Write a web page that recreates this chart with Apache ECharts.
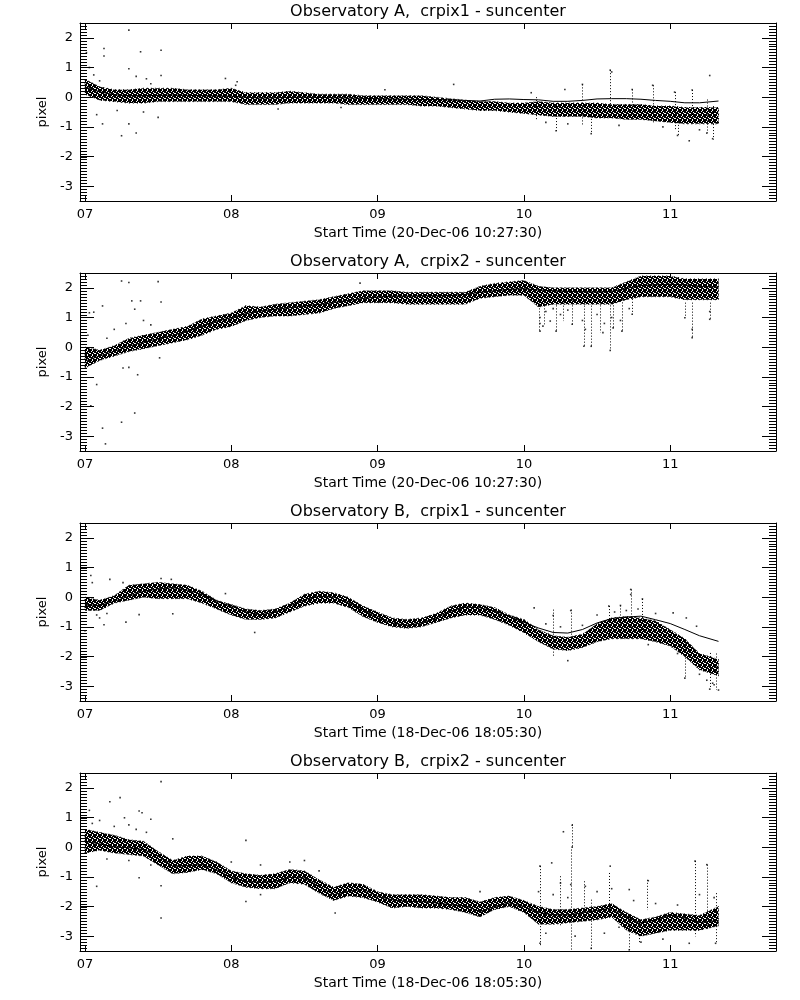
<!DOCTYPE html>
<html><head><meta charset="utf-8">
<script src="https://cdn.jsdelivr.net/npm/echarts@6/dist/echarts.min.js"></script>
<style>html,body{margin:0;padding:0;background:#fff}#chart{width:800px;height:1000px}</style>
</head><body><div id="chart"></div>
<script>
// ---- text ----
const titles = ['Observatory A,  crpix1 - suncenter','Observatory A,  crpix2 - suncenter','Observatory B,  crpix1 - suncenter','Observatory B,  crpix2 - suncenter'];
const xNames = ['Start Time (20-Dec-06 10:27:30)','Start Time (20-Dec-06 10:27:30)','Start Time (18-Dec-06 18:05:30)','Start Time (18-Dec-06 18:05:30)'];
const yName = 'pixel';
const xTicks = [7,8,9,10,11];
const yTicks = [-3,-2,-1,0,1,2];
// minor y tick positions (every 0.1 pixel inside the axis range)
const yMinorTicks = [];
for (let k = -34; k <= 24; k++) yMinorTicks.push(k / 10);
// ---- sample times (day) ----
const xs = [7.0,7.1,7.2,7.3,7.4,7.5,7.6,7.7,7.8,7.9,8.0,8.1,8.2,8.3,8.4,8.5,8.6,8.7,8.8,8.9,9.0,9.1,9.2,9.3,9.4,9.5,9.6,9.7,9.8,9.9,10.0,10.1,10.2,10.3,10.4,10.5,10.6,10.7,10.8,10.9,11.0,11.1,11.2,11.33];
// ---- Observatory A crpix1 ----
const a1Lo = [0.1,-0.1,-0.15,-0.2,-0.2,-0.15,-0.15,-0.15,-0.15,-0.15,-0.15, -0.25,-0.25,-0.25,-0.2,-0.2,-0.2,-0.2,-0.25,-0.25,-0.25, -0.25,-0.25,-0.3,-0.3,-0.35,-0.4,-0.45,-0.45,-0.5,-0.55, -0.6,-0.65,-0.65,-0.65,-0.7,-0.7,-0.75,-0.75,-0.8,-0.85, -0.9,-0.9,-0.9];
const a1Hi = [0.6,0.35,0.25,0.25,0.3,0.3,0.3,0.25,0.25,0.25,0.3, 0.15,0.15,0.15,0.2,0.15,0.1,0.1,0.1,0.05,0.05, 0.05,0.05,0.05,0.0,-0.05,-0.1,-0.15,-0.15,-0.2,-0.2, -0.15,-0.2,-0.2,-0.2,-0.2,-0.25,-0.25,-0.25,-0.3,-0.3, -0.35,-0.35,-0.35];
const a1Fit = [0.35,0.18,0.08,0.05,0.05,0.06,0.07,0.06,0.05,0.04,0.03, 0.0,-0.03,-0.02,-0.01,0.0,-0.01,-0.02,-0.03,-0.04,-0.05, -0.06,-0.07,-0.08,-0.08,-0.09,-0.11,-0.13,-0.07,-0.06,-0.08, -0.09,-0.14,-0.14,-0.11,-0.06,-0.05,-0.05,-0.07,-0.11,-0.14, -0.19,-0.19,-0.13];
const a1Out = [[7.3,2.26],[7.13,1.64],[7.13,1.39],[7.38,1.53],[7.52,1.58],[7.3,0.96],[7.52,0.73],[7.01,1.5],[7.03,1.0],[7.25,-1.3],[7.35,-1.21],[7.12,-0.9],[7.3,-0.9],[7.5,-0.68],[7.08,-0.59],[7.96,0.63],[8.04,0.52],[10.59,0.91],[10.6,0.85],[11.27,0.73],[10.28,0.26],[10.4,0.43],[10.88,0.4],[11.03,0.17],[11.15,0.24],[9.52,0.43],[10.22,-1.13],[10.46,-1.23],[11.05,-1.29],[11.13,-1.47],[11.29,-1.4],[11.25,-1.21],[10.74,0.26],[7.22,-0.45],[7.4,-0.5],[7.45,0.45],[7.06,0.75],[7.1,0.55],[7.35,0.7],[7.42,0.62],[8.03,0.4],[8.32,-0.4],[8.75,-0.35],[9.05,0.25],[10.05,0.15],[10.3,-0.9],[10.65,-0.95],[10.95,-1.0],[11.2,-1.1],[10.15,-0.85]];
const a1Spk = [[10.08,0.0,-0.8],[10.22,-0.3,-1.13],[10.4,0.43,-0.98],[10.46,-0.53,-1.21],[10.59,0.91,-0.42],[10.74,0.26,-0.64],[10.88,0.4,-0.87],[11.03,0.17,-1.1],[11.05,-0.53,-1.3],[11.15,0.24,-0.76],[11.25,-0.08,-1.21],[11.29,-0.3,-1.43]];
// ---- Observatory A crpix2 ----
const a2Lo = [-0.7,-0.45,-0.3,-0.15,-0.05,0.05,0.15,0.25,0.4,0.6,0.7, 0.9,1.0,1.05,1.05,1.1,1.15,1.3,1.4,1.5,1.5, 1.5,1.45,1.45,1.45,1.45,1.45,1.65,1.7,1.75,1.75, 1.35,1.45,1.45,1.45,1.45,1.45,1.6,1.7,1.7,1.7, 1.6,1.6,1.6];
const a2Hi = [0.0,-0.1,0.05,0.3,0.4,0.5,0.6,0.7,0.95,1.05,1.15, 1.4,1.35,1.45,1.5,1.55,1.6,1.7,1.8,1.9,1.9, 1.9,1.85,1.85,1.85,1.85,1.85,2.05,2.15,2.2,2.25, 2.05,2.0,2.0,2.0,2.0,2.0,2.2,2.4,2.4,2.4, 2.3,2.3,2.3];
const a2Fit = [-0.47,-0.3,-0.14,0.03,0.17,0.28,0.4,0.54,0.71,0.88,0.99, 1.13,1.22,1.28,1.33,1.39,1.44,1.5,1.58,1.64,1.69, 1.72,1.72,1.73,1.73,1.74,1.78,1.85,1.9,1.95,1.97, 1.93,1.9,1.88,1.87,1.86,1.88,1.98,2.08,2.1,2.12, 2.1,2.05,2.03];
const a2Out = [[7.25,2.23],[7.3,2.18],[7.5,2.21],[7.32,1.56],[7.38,1.56],[7.52,1.52],[7.34,1.28],[7.03,1.16],[7.06,1.18],[7.12,1.39],[7.07,-0.08],[7.04,-0.45],[7.26,-0.7],[7.36,-0.93],[7.3,-0.68],[7.08,-1.26],[7.04,-1.98],[7.34,-2.22],[7.25,-2.53],[7.12,-2.73],[7.14,-3.26],[8.88,2.16],[7.51,-0.36],[10.11,0.54],[10.22,0.54],[10.41,0.03],[10.46,0.03],[10.59,-0.11],[10.54,0.49],[10.67,0.54],[10.61,0.65],[11.15,0.32],[11.1,0.99],[11.27,0.94],[10.18,0.88],[10.33,0.77],[10.74,1.11],[10.13,0.71],[7.2,0.6],[7.28,0.8],[7.4,0.9],[7.45,0.75],[7.02,0.4],[7.15,0.3],[10.11,1.0],[10.11,0.8],[10.15,1.2],[10.25,1.1],[10.3,1.25],[10.4,0.9],[10.42,0.6],[10.5,1.1],[10.55,0.8],[10.6,1.0],[10.66,0.9],[10.72,1.3],[10.2,1.3],[11.15,0.6],[11.27,1.2]];
const a2Spk = [[10.1,1.61,0.54],[10.14,1.61,0.77],[10.22,1.61,0.54],[10.27,1.5,0.88],[10.33,1.61,0.77],[10.41,1.5,0.03],[10.46,1.5,0.03],[10.52,1.61,0.49],[10.59,1.61,-0.11],[10.61,1.61,0.65],[10.67,1.61,0.54],[10.74,1.73,1.11],[11.1,1.5,0.99],[11.15,1.5,0.32],[11.27,1.5,0.94]];
// ---- Observatory B crpix1 ----
const b1Lo = [-0.45,-0.45,-0.2,-0.1,0.0,-0.05,-0.05,-0.05,-0.2,-0.4,-0.6, -0.75,-0.75,-0.7,-0.5,-0.3,-0.2,-0.2,-0.35,-0.65,-0.85, -1.0,-1.05,-1.0,-0.85,-0.7,-0.6,-0.6,-0.75,-0.95,-1.2, -1.5,-1.75,-1.8,-1.7,-1.5,-1.4,-1.4,-1.4,-1.5,-1.65, -2.0,-2.45,-2.65];
const b1Hi = [0.0,-0.1,0.05,0.4,0.45,0.5,0.45,0.4,0.2,-0.1,-0.25, -0.4,-0.45,-0.4,-0.2,0.1,0.2,0.15,0.0,-0.3,-0.5, -0.7,-0.75,-0.7,-0.55,-0.3,-0.2,-0.25,-0.35,-0.6,-0.75, -1.1,-1.3,-1.35,-1.25,-0.9,-0.7,-0.65,-0.7,-0.8,-1.1, -1.4,-1.9,-2.1];
const b1Fit = [-0.25,-0.28,-0.14,0.03,0.2,0.28,0.32,0.24,0.09,-0.14,-0.3, -0.5,-0.59,-0.51,-0.3,-0.08,0.03,0.0,-0.19,-0.42,-0.7, -0.87,-0.95,-0.87,-0.7,-0.47,-0.33,-0.36,-0.47,-0.64,-0.85, -1.04,-1.19,-1.21,-1.09,-0.87,-0.72,-0.67,-0.64,-0.76,-0.89, -1.09,-1.3,-1.49];
const b1Out = [[7.04,0.73],[7.05,0.49],[7.17,0.6],[7.26,0.49],[7.13,-0.93],[7.0,-1.13],[7.28,-0.84],[7.37,-0.59],[7.6,-0.56],[7.52,0.63],[7.59,0.6],[7.96,0.12],[8.16,-1.19],[10.73,0.26],[10.73,0.09],[10.81,-0.06],[10.07,-0.36],[10.32,-0.45],[10.2,-0.62],[10.58,-0.3],[10.66,-0.28],[11.02,-0.53],[11.11,-0.7],[11.18,-0.98],[10.3,-2.14],[11.1,-2.73],[11.27,-3.1],[11.33,-3.13],[11.29,-2.9],[7.08,-0.6],[7.1,-0.7],[7.02,-0.3],[7.15,-0.55],[10.15,-0.9],[10.25,-1.0],[10.4,-0.95],[10.5,-0.6],[10.62,-0.5],[10.7,-0.45],[10.78,-0.4],[10.9,-0.55],[10.85,-1.6],[11.05,-1.9],[11.2,-2.6],[11.25,-2.8],[11.3,-2.95]];
const b1Spk = [[10.2,-0.42,-2.0],[10.32,-0.42,-1.44],[10.58,-0.3,-1.4],[10.66,-0.28,-1.3],[10.73,0.26,-1.0],[10.81,-0.06,-1.2],[11.1,-1.43,-2.73],[11.27,-1.88,-3.1],[11.31,-1.9,-3.13]];
// ---- Observatory B crpix2 ----
const b2Lo = [-0.2,-0.1,-0.2,-0.25,-0.3,-0.6,-0.9,-0.85,-0.75,-0.9,-1.2, -1.35,-1.4,-1.4,-1.2,-1.25,-1.55,-1.8,-1.65,-1.7,-1.85, -2.05,-2.0,-2.05,-2.05,-2.1,-2.2,-2.35,-2.1,-2.0,-2.2, -2.6,-2.6,-2.55,-2.5,-2.45,-2.35,-2.8,-3.0,-2.9,-2.8, -2.8,-2.8,-2.65];
const b2Hi = [0.6,0.5,0.4,0.25,0.2,-0.15,-0.45,-0.3,-0.3,-0.5,-0.8, -0.9,-0.95,-0.9,-0.75,-0.8,-1.1,-1.35,-1.2,-1.25,-1.5, -1.6,-1.6,-1.6,-1.65,-1.7,-1.7,-1.85,-1.7,-1.65,-1.8, -2.0,-2.1,-2.1,-2.05,-2.0,-1.9,-2.2,-2.45,-2.35,-2.2, -2.25,-2.3,-2.0];
const b2Fit = [0.2,0.11,0.01,-0.02,-0.08,-0.3,-0.64,-0.62,-0.59,-0.76,-1.02, -1.15,-1.19,-1.15,-1.02,-1.04,-1.32,-1.6,-1.49,-1.41,-1.66, -1.77,-1.83,-1.83,-1.88,-1.94,-1.98,-2.17,-2.0,-1.88,-2.0, -2.2,-2.28,-2.28,-2.22,-2.13,-2.05,-2.34,-2.56,-2.45,-2.28, -2.39,-2.54,-2.47];
const b2Out = [[7.03,1.24],[7.17,1.53],[7.24,1.67],[7.52,2.21],[7.27,0.99],[7.37,1.22],[7.39,1.16],[7.45,0.94],[7.08,-1.32],[7.37,-1.03],[7.52,-1.3],[7.52,-2.39],[8.1,0.23],[7.6,0.28],[8.1,-1.83],[8.71,-2.22],[10.27,0.52],[10.33,0.74],[10.33,0.0],[10.11,-0.64],[10.19,-0.53],[11.17,-0.47],[11.25,-0.59],[10.59,-0.64],[10.25,-1.21],[10.85,-1.13],[10.32,-1.26],[10.11,-3.24],[10.46,-3.41],[10.72,-3.46],[11.31,-3.24],[11.13,-3.24],[10.42,-1.32],[10.72,-1.43],[7.05,0.8],[7.1,0.9],[7.2,0.7],[7.3,0.75],[7.35,0.6],[7.42,0.5],[7.15,-0.4],[7.3,-0.45],[7.45,-0.6],[8.0,-0.5],[8.2,-0.6],[8.4,-0.5],[8.5,-0.45],[8.2,-1.6],[8.6,-0.8],[9.7,-1.5],[10.1,-1.5],[10.15,-2.9],[10.2,-1.6],[10.3,-1.7],[10.35,-3.0],[10.5,-1.5],[10.55,-2.9],[10.6,-1.4],[10.65,-2.7],[10.75,-1.8],[10.8,-3.2],[10.9,-1.9],[10.95,-3.1],[11.05,-1.95],[11.2,-1.6],[11.3,-1.7]];
const b2Spk = [[10.11,-0.64,-3.35],[10.25,-0.98,-2.67],[10.32,-0.08,-3.46],[10.33,0.77,0.0],[10.41,-1.15,-2.56],[10.46,-1.77,-3.46],[10.58,-0.87,-2.34],[10.72,-2.33,-3.46],[10.79,-2.56,-3.23],[10.84,-1.1,-2.12],[11.17,-0.47,-3.01],[11.25,-0.59,-2.79],[11.31,-1.55,-3.24]];

const panels = [
  {lo:a1Lo, hi:a1Hi, fit:a1Fit, out:a1Out, spk:a1Spk},
  {lo:a2Lo, hi:a2Hi, fit:a2Fit, out:a2Out, spk:a2Spk},
  {lo:b1Lo, hi:b1Hi, fit:b1Fit, out:b1Out, spk:b1Spk},
  {lo:b2Lo, hi:b2Hi, fit:b2Fit, out:b2Out, spk:b2Spk}
];

const FONT = 'DejaVu Sans';
const GL = 80, GW = 696, GH = 178, GT = 23, STEP = 250;
const XMIN = 6.966, XMAX = 11.723, YMIN = -3.5, YMAX = 2.5;
const BLACK = '#000';
const MINOR_LEN = 7;

// stipple fill for the dense point cloud
const pat = document.createElement('canvas');
pat.width = 5; pat.height = 5;
(function () {
  const c = pat.getContext('2d');
  c.fillStyle = '#fff'; c.fillRect(0, 0, 5, 5);
  c.fillStyle = '#000';
  ['11011', '10111', '11101', '01110', '11011'].forEach((row, r) =>
    row.split('').forEach((v, k) => { if (v === '1') c.fillRect(k, r, 1, 1); }));
})();
const bandFill = {image: pat, repeat: 'repeat'};

const n = panels.length;
const grid = [], xAxis = [], yAxis = [], series = [], graphic = [];
// main grids: left axis (line, major ticks, labels), bottom/top axes and all marks
panels.forEach((p, i) => {
  grid.push({left: GL, top: GT + STEP * i, width: GW, height: GH});
  const base = {gridIndex: i, type: 'value', min: XMIN, max: XMAX, splitLine: {show: false},
    axisLine: {show: true, onZero: false, lineStyle: {color: BLACK, width: 1}},
    axisTick: {show: true, inside: true, length: 6, customValues: xTicks, lineStyle: {color: BLACK, width: 1}}};
  xAxis.push(Object.assign({}, base, {position: 'bottom',
    axisLabel: {show: true, customValues: xTicks, formatter: v => (v < 10 ? '0' : '') + v, color: BLACK, fontFamily: FONT, fontSize: 13, margin: 7},
    name: xNames[i], nameLocation: 'middle', nameGap: 25,
    nameTextStyle: {color: BLACK, fontFamily: FONT, fontSize: 14}}));
  xAxis.push(Object.assign({}, base, {position: 'top', axisLabel: {show: false}}));
  yAxis.push({gridIndex: i, type: 'value', min: YMIN, max: YMAX, minInterval: 1, maxInterval: 1,
    position: 'left', splitLine: {show: false},
    axisLine: {show: true, onZero: false, lineStyle: {color: BLACK, width: 1}},
    axisTick: {show: true, inside: true, length: 14, customValues: yTicks, lineStyle: {color: BLACK, width: 1}},
    axisLabel: {show: true, customValues: yTicks, color: BLACK, fontFamily: FONT, fontSize: 13, margin: 7},
    name: yName, nameLocation: 'middle', nameGap: 28, nameRotate: 90,
    nameTextStyle: {color: BLACK, fontFamily: FONT, fontSize: 13}});
  const xi = 2 * i, yi = i;
  series.push({type: 'custom', xAxisIndex: xi, yAxisIndex: yi, silent: true, clip: true,
    data: [[xs[0], p.lo[0]]],
    renderItem: (params, api) => {
      const pts = [];
      for (let k = 0; k < xs.length; k++) pts.push(api.coord([xs[k], p.hi[k]]));
      for (let k = xs.length - 1; k >= 0; k--) pts.push(api.coord([xs[k], p.lo[k]]));
      return {type: 'polygon', shape: {points: pts},
        style: {fill: bandFill, stroke: '#000', lineWidth: 1, lineDash: [1, 3]}};
    }});
  series.push({type: 'custom', xAxisIndex: xi, yAxisIndex: yi, silent: true, clip: true,
    data: p.spk, encode: {x: 0, y: [1, 2]},
    renderItem: (params, api) => {
      const a = api.coord([api.value(0), api.value(1)]);
      const b = api.coord([api.value(0), api.value(2)]);
      const x = Math.round(a[0]) + 0.5;
      return {type: 'line', shape: {x1: x, y1: a[1], x2: x, y2: b[1]},
        style: {stroke: '#000', lineWidth: 1, lineDash: [1, 2]}};
    }});
  series.push({type: 'scatter', xAxisIndex: xi, yAxisIndex: yi, data: p.out, symbol: 'rect', symbolSize: 1.6,
    itemStyle: {color: BLACK}, silent: true});
  series.push({type: 'line', xAxisIndex: xi, yAxisIndex: yi, data: xs.map((x, k) => [x, p.fit[k]]),
    showSymbol: false, symbol: 'none', lineStyle: {color: BLACK, width: 1}, silent: true});
  // left-hand minor tick comb, placed through the panel's own y scale
  series.push({type: 'custom', xAxisIndex: xi, yAxisIndex: yi, silent: true, clip: false, z: 10,
    data: yMinorTicks.map(v => [XMIN, v]),
    renderItem: (params, api) => {
      const c = api.coord([api.value(0), api.value(1)]);
      const y = Math.round(c[1]) + 0.5;
      const x0 = Math.round(c[0]);
      return {type: 'line', shape: {x1: x0, y1: y, x2: x0 + MINOR_LEN, y2: y},
        style: {stroke: BLACK, lineWidth: 1}};
    }});
  graphic.push({type: 'text', x: GL + GW / 2, y: 4 + STEP * i,
    style: {text: titles[i], fill: BLACK, font: '16px "' + FONT + '"', textAlign: 'center', textVerticalAlign: 'top'}});
});
// right-hand axes (same rect as the plot, ticks pointing inward)
panels.forEach((p, i) => {
  grid.push({left: GL, top: GT + STEP * i, width: GW, height: GH});
  xAxis.push({gridIndex: n + i, type: 'value', min: XMIN, max: XMAX, show: false});
  yAxis.push({gridIndex: n + i, type: 'value', min: YMIN, max: YMAX, minInterval: 1, maxInterval: 1,
    position: 'right', splitLine: {show: false}, minorSplitLine: {show: false},
    axisLine: {show: true, onZero: false, lineStyle: {color: BLACK, width: 1}},
    axisTick: {show: true, inside: true, length: 14, customValues: yTicks, lineStyle: {color: BLACK, width: 1}},
    minorTick: {show: true, splitNumber: 10, length: 7, lineStyle: {color: BLACK, width: 1}},
    axisLabel: {show: false}});
});

const chart = echarts.init(document.getElementById('chart'));
chart.setOption({animation: false, backgroundColor: '#fff', grid, xAxis, yAxis, series, graphic});
</script></body></html>
